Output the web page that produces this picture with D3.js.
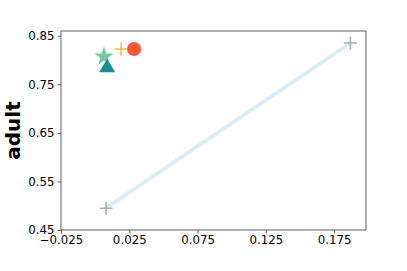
<!DOCTYPE html>
<html>
<meta charset="utf-8">
<title>adult scatter</title>
<style>
  body { margin: 0; background: #fff; }
  text { font-family: "DejaVu Sans", sans-serif; }
</style>
<body>
<div id="chartContainer"></div>
<script src="https://d3js.org/d3.v7.min.js"></script>
<script>
// line between two grey plus markers
var lineX = [0.008, 0.187];
var lineY = [0.495, 0.835];

// single markers: name, x, y
var pointNames = ["plus", "circle", "star", "triangle"];
var pointX = [0.019, 0.0285, 0.0065, 0.0088];
var pointY = [0.8226, 0.8226, 0.8068, 0.786];

var xTicks = [-0.025, 0.025, 0.075, 0.125, 0.175];
var yTicks = [0.45, 0.55, 0.65, 0.75, 0.85];

var W = 407, H = 271;
var mLeft = 61, mRight = 366, mTop = 31, mBottom = 230;

var svg = d3.select("#chartContainer").append("svg")
  .attr("width", W).attr("height", H);

var x = d3.scaleLinear().domain([-0.025, 0.1984]).range([mLeft, mRight]);
var y = d3.scaleLinear().domain([0.45, 0.8597]).range([mBottom, mTop]);

var fmt = function (d) { return d3.format(".3f")(d).replace("-", "\u2212"); };
var fmtY = function (d) { return d3.format(".2f")(d); };

var xAxis = svg.append("g").attr("transform", "translate(0," + mBottom + ")")
  .call(d3.axisBottom(x).tickValues(xTicks).tickFormat(fmt).tickSize(3.5).tickPadding(2));
var yAxis = svg.append("g").attr("transform", "translate(" + mLeft + ",0)")
  .call(d3.axisLeft(y).tickValues(yTicks).tickFormat(fmtY).tickSize(3.5).tickPadding(3));

[xAxis, yAxis].forEach(function (a) {
  a.select(".domain").remove();
  a.selectAll("line").attr("stroke", "#333").attr("stroke-width", 0.8);
  a.selectAll("text").attr("fill", "#000").style("font-size", "11.8px")
    .style("font-family", "DejaVu Sans");
});

// frame
svg.append("rect")
  .attr("x", mLeft).attr("y", mTop)
  .attr("width", mRight - mLeft).attr("height", mBottom - mTop)
  .attr("fill", "none").attr("stroke", "#333").attr("stroke-width", 0.8);

// light line
var lineData = lineX.map(function (v, i) { return [v, lineY[i]]; });
svg.append("path")
  .datum(lineData)
  .attr("d", d3.line().x(function (d) { return x(d[0]); }).y(function (d) { return y(d[1]); }))
  .attr("stroke", "#daedf6").attr("stroke-width", 3.8).attr("fill", "none");

function plus(cx, cy, r, color, w) {
  svg.append("path")
    .attr("d", "M" + (cx - r) + "," + cy + "H" + (cx + r) + "M" + cx + "," + (cy - r) + "V" + (cy + r))
    .attr("stroke", color).attr("stroke-width", w).attr("fill", "none");
}

lineData.forEach(function (d) {
  plus(x(d[0]), y(d[1]), 6.5, "#a3adb3", 1.5);
});

// markers
pointNames.forEach(function (n, i) {
  var cx = x(pointX[i]), cy = y(pointY[i]);
  if (n == "plus") {
    plus(cx, cy, 6.5, "#f5b942", 1.5);
  } else if (n == "circle") {
    svg.append("circle").attr("cx", cx).attr("cy", cy).attr("r", 7)
      .attr("fill", "#ff5733");
  } else if (n == "star") {
    svg.append("path").attr("transform", "translate(" + cx + "," + cy + ")")
      .attr("d", d3.symbol().type(d3.symbolStar).size(115)())
      .attr("fill", "#76c7a3");
  } else {
    svg.append("path")
      .attr("d", "M" + cx + "," + (cy - 8) + "L" + (cx + 8) + "," + (cy + 5.5) + "L" + (cx - 8) + "," + (cy + 5.5) + "Z")
      .attr("fill", "#148f8f");
  }
});

svg.append("text")
  .attr("transform", "translate(20," + ((mTop + mBottom) / 2) + ") rotate(-90)")
  .attr("text-anchor", "middle")
  .style("font-size", "20px")
  .style("font-weight", "bold")
  .text("adult");
</script>
</body>
</html>
